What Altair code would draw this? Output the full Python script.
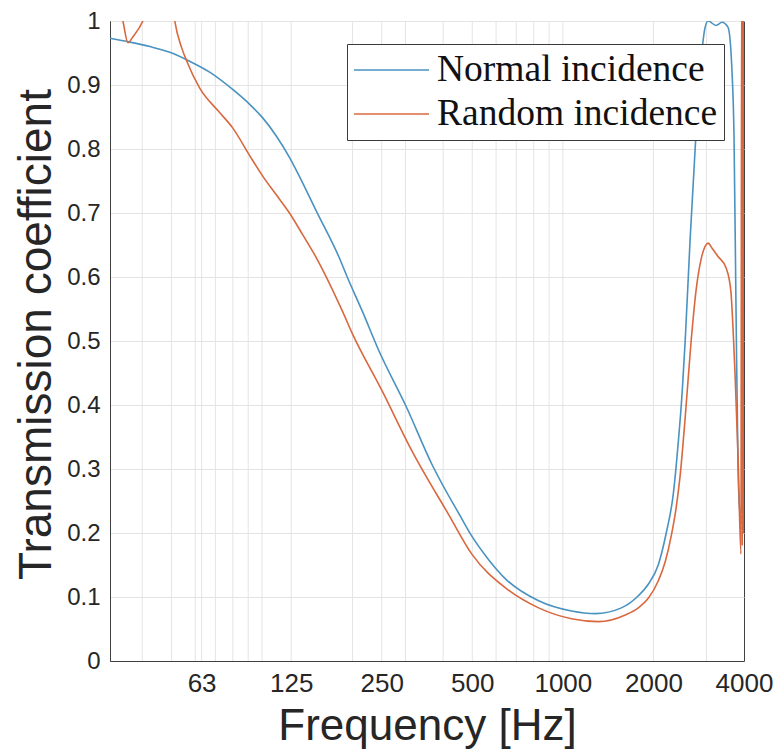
import altair as alt
import pandas as pd

# ---------------- data ----------------
series_names = ["Normal incidence", "Random incidence"]
series_colors = ["#4a92c0", "#d9683f"]

normal_freq = [31.25, 36.4, 42.4, 49.4, 57.5, 67.0, 79.9, 90.9, 100.4, 111.7,
               123.4, 136.2, 151.6, 180.7, 192.0, 215.3, 245.1, 301.2, 367.3, 461.7,
               498.3, 567.4, 645.9, 830.8, 1068.7, 1283, 1565, 1782, 1923, 2075,
               2206, 2327, 2417, 2492, 2550, 2649, 2752, 2859, 2970, 3039,
               3231, 3381, 3541, 3650, 3706, 3763, 3822, 3879]
normal_val = [0.973, 0.967, 0.960, 0.951, 0.937, 0.920, 0.893, 0.870, 0.849, 0.820,
              0.787, 0.748, 0.703, 0.630, 0.600, 0.547, 0.484, 0.398, 0.307, 0.222,
              0.195, 0.158, 0.128, 0.094, 0.078, 0.074, 0.083, 0.102, 0.12, 0.15,
              0.20, 0.26, 0.34, 0.42, 0.50, 0.66, 0.80, 0.92, 0.99, 1.0,
              0.993, 0.998, 0.99, 0.92, 0.82, 0.55, 0.30, 0.23]

random_freq = [31.25, 33.0, 34.5, 35.85, 37.2, 40.2, 42.4, 45.8, 50.0, 51.3,
               54.1, 56.2, 62.1, 72.3, 79.9, 90.9, 100.4, 111.7, 123.4, 136.2,
               151.6, 184.9, 199.5, 250.8, 315.3, 418.2, 498.3, 645.9, 830.8, 1068.7,
               1313, 1613, 1782, 1923, 2075, 2189, 2291, 2381, 2454, 2550,
               2669, 2773, 2881, 2970, 3039, 3133, 3280, 3488, 3566, 3622,
               3678, 3734, 3822, 3908, 3930, 3948, 3965, 3982, 4000]
random_val = [1.15, 1.04, 1.0, 0.966, 0.975, 1.0, 1.03, 1.08, 1.04, 1.0,
              0.958, 0.9375, 0.895, 0.857, 0.833, 0.79, 0.758, 0.728, 0.700, 0.667,
              0.630, 0.547, 0.512, 0.422, 0.328, 0.228, 0.167, 0.114, 0.083, 0.066,
              0.0615, 0.072, 0.083, 0.098, 0.125, 0.155, 0.195, 0.24, 0.29, 0.38,
              0.50, 0.58, 0.628, 0.648, 0.653, 0.645, 0.632, 0.614, 0.598, 0.575,
              0.52, 0.45, 0.32, 0.167, 1.1, 0.18, 1.1, 0.2, 1.1]

x_ticks = [63, 125, 250, 500, 1000, 2000, 4000]
y_ticks = [0, 0.1, 0.2, 0.3, 0.4, 0.5, 0.6, 0.7, 0.8, 0.9, 1]
grid_freqs = [40, 50, 60, 63, 70, 80, 90, 100, 125, 200, 250, 300, 400, 500,
              600, 700, 800, 900, 1000, 2000, 3000]

# ---------------- tables ----------------
df_n = pd.DataFrame({"freq": normal_freq, "value": normal_val, "series": series_names[0]})
df_r = pd.DataFrame({"freq": random_freq, "value": random_val, "series": series_names[1]})
df = pd.concat([df_n, df_r], ignore_index=True)
df["order"] = range(len(df))
df_grid = pd.DataFrame({"freq": grid_freqs})

x_scale = alt.Scale(type="log", domain=[31.25, 4000], nice=False)
y_scale = alt.Scale(domain=[0, 1], nice=False)

x_axis = alt.Axis(
    values=x_ticks, format="d", title="Frequency [Hz]",
    grid=False, ticks=False, domain=True, domainColor="#404040", domainWidth=1,
    labelFlush=False, labelOverlap=False,
    labelFont="Liberation Sans", labelFontSize=26, labelColor="#262626",
    labelPadding=9,
    titleFont="Liberation Sans", titleFontSize=44, titleFontWeight="normal",
    titleColor="#262626", titleY=78, titleBaseline="alphabetic",
)
y_axis = alt.Axis(
    values=y_ticks, format="~g", title="Transmission coefficient",
    grid=True, gridColor="#e4e4e4", ticks=False,
    domain=True, domainColor="#404040", domainWidth=1,
    labelFlush=False, labelOverlap=False,
    labelFont="Liberation Sans", labelFontSize=24, labelColor="#262626",
    labelPadding=10,
    titleFont="Liberation Sans", titleFontSize=46, titleFontWeight="normal",
    titleColor="#262626", titleX=-74, titleY=313, titleAngle=270,
    titleAlign="center", titleBaseline="middle",
)

grid = alt.Chart(df_grid).mark_rule(color="#e4e4e4", strokeWidth=1).encode(
    x=alt.X("freq:Q", scale=x_scale, axis=x_axis)
)

lines = alt.Chart(df).mark_line(clip=True, strokeWidth=1.6, interpolate="monotone").encode(
    x=alt.X("freq:Q", scale=x_scale, axis=x_axis),
    y=alt.Y("value:Q", scale=y_scale, axis=y_axis),
    color=alt.Color(
        "series:N",
        scale=alt.Scale(domain=series_names, range=series_colors),
        legend=alt.Legend(
            title=None, orient="none", legendX=237, legendY=23,
            symbolType="stroke", symbolSize=5625, symbolStrokeWidth=1.6,
            labelFont="Liberation Serif", labelFontSize=37.5, labelColor="#111111",
            labelLimit=420, labelOffset=7,
            strokeColor="#3a3a3a", fillColor="white", padding=6,
            clipHeight=40, rowPadding=4,
        ),
    ),
    order="order:Q",
)

chart = alt.layer(grid, lines).properties(
    width=634,
    height=640,
    padding={"left": 102, "top": 13, "right": 30, "bottom": 88},
    autosize="none",
    background="white",
).configure_view(stroke="#404040", strokeWidth=1)

chart.save("out.html", embed_options={"renderer": "svg", "actions": False})
